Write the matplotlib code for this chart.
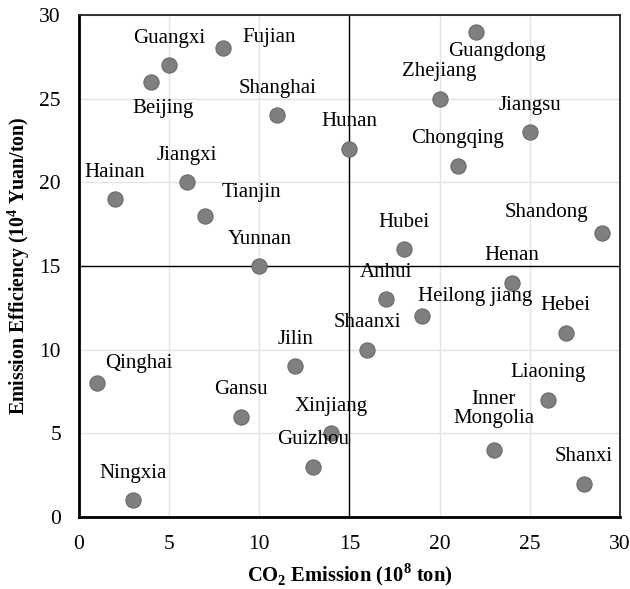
import matplotlib.pyplot as plt

plt.rcParams['font.family'] = ['Liberation Serif', 'DejaVu Serif']
plt.rcParams['mathtext.fontset'] = 'custom'
plt.rcParams['mathtext.rm'] = 'Liberation Serif'
plt.rcParams['mathtext.bf'] = 'Liberation Serif:bold'

# data
provinces = ['Guangxi', 'Fujian', 'Beijing', 'Shanghai', 'Hunan', 'Jiangxi', 'Hainan',
             'Tianjin', 'Yunnan', 'Guangdong', 'Zhejiang', 'Jiangsu', 'Chongqing',
             'Shandong', 'Hubei', 'Henan', 'Anhui', 'Heilong jiang', 'Hebei', 'Shaanxi',
             'Jilin', 'Qinghai', 'Liaoning', 'Gansu', 'Xinjiang', 'Inner\nMongolia',
             'Guizhou', 'Shanxi', 'Ningxia']
emission = [5, 8, 4, 11, 15, 6, 2, 7, 10, 22, 20, 25, 21, 29, 18, 24, 17, 19, 27, 16,
            12, 1, 26, 9, 14, 23, 13, 28, 3]
efficiency = [27, 28, 26, 24, 22, 20, 19, 18, 15, 29, 25, 23, 21, 17, 16, 14, 13, 12, 11,
              10, 9, 8, 7, 6, 5, 4, 3, 2, 1]

# label placement (pixels from the point), default: centred above
label_offset = {
    'Fujian': (46, 11), 'Beijing': (12, -27), 'Tianjin': (46, 23),
    'Guangdong': (21, -20), 'Shandong': (-55, 20), 'Heilong jiang': (54, 20),
    'Qinghai': (42, 20), 'Inner\nMongolia': (0, 41),
}

fig = plt.figure(figsize=(6.3, 5.89), dpi=100)
ax = fig.add_axes([0.1254, 0.1222, 0.8586, 0.8523])

ax.set_xlim(0, 30)
ax.set_ylim(0, 30)
ax.set_xticks(range(0, 31, 5))
ax.set_yticks(range(0, 31, 5))
ax.grid(True, color='#e3e3e3', linewidth=1)
ax.set_axisbelow(True)
ax.tick_params(length=0, labelsize=15.5, pad=13)

ax.axvline(15, color='black', linewidth=1, zorder=2)
ax.axhline(15, color='black', linewidth=1, zorder=2)

ax.scatter(emission, efficiency, s=120, color='#7f7f7f', edgecolors='#6a6a6a',
           linewidths=0.8, zorder=3)

for name, x, y in zip(provinces, emission, efficiency):
    dx, dy = label_offset.get(name, (0, 27))
    ax.annotate(name, (x, y), xytext=(dx, dy), textcoords='offset pixels',
                ha='center', va='center', fontsize=15, linespacing=1.05)

for side in ['left', 'bottom']:
    ax.spines[side].set_linewidth(2)
    ax.spines[side].set_color('black')
for side in ['top', 'right']:
    ax.spines[side].set_linewidth(1.3)
    ax.spines[side].set_color('#222222')

ax.set_xlabel(r'CO$_\mathbf{2}$ Emission (10$^\mathbf{8}$ ton)', fontsize=14.8,
              fontweight='bold', labelpad=5)
ax.set_ylabel(r'Emission Efficiency (10$^\mathbf{4}$ Yuan/ton)', fontsize=14.3,
              fontweight='bold', labelpad=5)

fig.savefig('out.png', dpi=100)
